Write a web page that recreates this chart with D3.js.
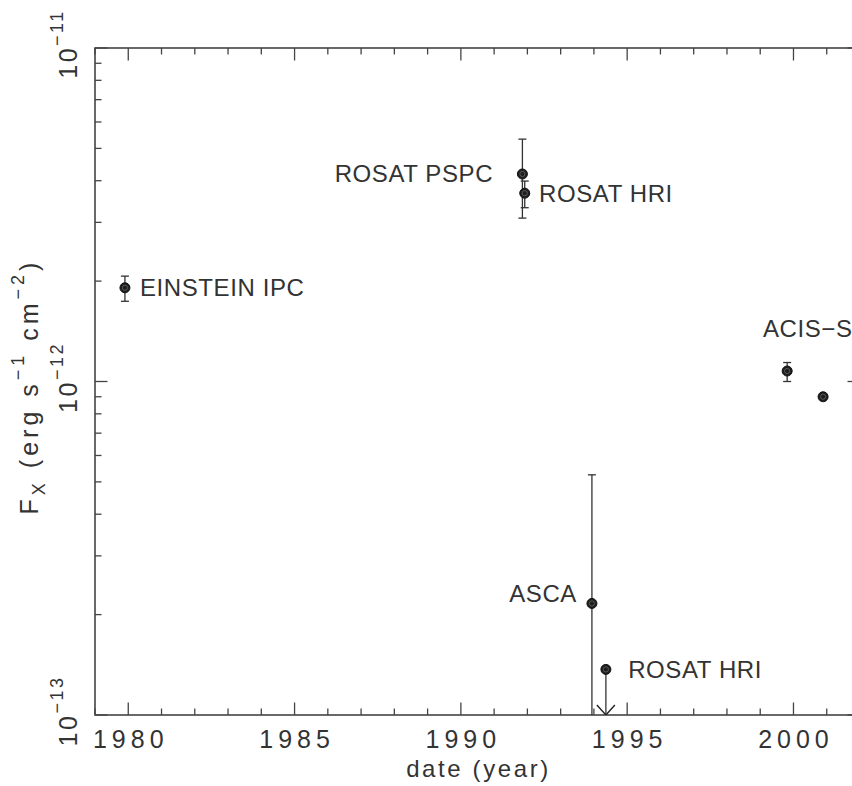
<!DOCTYPE html>
<html>
<head>
<meta charset="utf-8">
<script src="https://cdn.jsdelivr.net/npm/d3@7"></script>
<style>
  html, body { margin: 0; padding: 0; background: #fff; }
  svg { display: block; }
  text { font-family: "Liberation Sans", Arial, sans-serif; fill: #333; }
</style>
</head>
<body>
<div id="chart"></div>
<script>
// observations: date (year) and flux (erg s^-1 cm^-2)
const years    = [1979.9, 1991.85, 1991.92, 1993.94, 1994.36, 1999.81, 2000.89];
const flux     = [1.91e-12, 4.19e-12, 3.67e-12, 2.16e-13, 1.37e-13, 1.075e-12, 9.0e-13];
const fluxLo   = [1.74e-12, 3.09e-12, 3.32e-12, 5e-14, null, 1.0e-12, null];
const fluxHi   = [2.07e-12, 5.33e-12, 3.99e-12, 5.25e-13, null, 1.14e-12, null];
const upperLim = [false, false, false, false, true, false, false];

// instrument labels (anchor point in data units)
const labelText  = ["EINSTEIN IPC", "ROSAT PSPC", "ROSAT HRI", "ASCA", "ROSAT HRI", "ACIS\u2212S"];
const labelYear  = [1980.35, 1990.97, 1992.35, 1993.49, 1995.03, 1999.08];
const labelFlux  = [1.91e-12, 4.22e-12, 3.67e-12, 2.32e-13, 1.37e-13, 1.44e-12];
const labelSide  = ["start", "end", "start", "end", "start", "start"];

const xTicks = [1980, 1985, 1990, 1995, 2000];
const yTicks = [1e-13, 1e-12, 1e-11];
const yExp   = ["\u221213", "\u221212", "\u221211"];

const width = 852, height = 786;
const pL = 95, pR = 860, pT = 48, pB = 715;

const svg = d3.select("#chart").append("svg")
    .attr("width", width)
    .attr("height", height);

const x = d3.scaleLinear().domain([1979, 2002]).range([pL, pR]);
const y = d3.scaleLog().domain([1e-13, 1e-11]).range([pB, pT]);

const axisColor = "#444";

// frame
svg.append("rect")
    .attr("x", pL).attr("y", pT)
    .attr("width", pR - pL).attr("height", pB - pT)
    .attr("fill", "none")
    .attr("stroke", axisColor)
    .attr("stroke-width", 1.6);

// x ticks, bottom and top, pointing inward
const xMinor = d3.range(1979, 2003, 1);
const xt = svg.append("g").attr("stroke", axisColor).attr("stroke-width", 1.3);
xMinor.forEach(v => {
    const len = v % 5 === 0 ? 12.5 : 6.5;
    xt.append("line").attr("x1", x(v)).attr("x2", x(v)).attr("y1", pB).attr("y2", pB - len);
    xt.append("line").attr("x1", x(v)).attr("x2", x(v)).attr("y1", pT).attr("y2", pT + len);
});

// y ticks, left and right
const yAll = [];
[1e-13, 1e-12].forEach(d => { for (let m = 1; m <= 9; m++) yAll.push(m * d); });
yAll.push(1e-11);
const yt = svg.append("g").attr("stroke", axisColor).attr("stroke-width", 1.3);
yAll.forEach(v => {
    const major = yTicks.some(t => Math.abs(t - v) / t < 1e-6);
    const len = major ? 12.5 : 6.5;
    yt.append("line").attr("x1", pL).attr("x2", pL + len).attr("y1", y(v)).attr("y2", y(v));
    yt.append("line").attr("x1", pR).attr("x2", pR - len).attr("y1", y(v)).attr("y2", y(v));
});

// x tick labels
svg.append("g").selectAll("text")
    .data(xTicks)
    .join("text")
    .attr("x", d => x(d) + 2.5)
    .attr("y", 748)
    .attr("text-anchor", "middle")
    .attr("font-size", 25)
    .attr("letter-spacing", 5)
    .text(d => d);

// y tick labels (rotated, 10 with superscript)
yTicks.forEach((d, i) => {
    const t = svg.append("text")
        .attr("transform", `translate(77, ${y(d) - 4}) rotate(-90)`)
        .attr("text-anchor", "middle")
        .attr("font-size", 25)
        .attr("letter-spacing", 2.5);
    t.append("tspan").text("10");
    t.append("tspan").attr("dy", -14).attr("font-size", 18).text(yExp[i]);
});

// axis titles
svg.append("text")
    .attr("x", (pL + pR) / 2 + 1)
    .attr("y", 777)
    .attr("text-anchor", "middle")
    .attr("font-size", 24)
    .attr("letter-spacing", 2.6)
    .text("date (year)");

const yt2 = svg.append("text")
    .attr("transform", `translate(38, ${(pT + pB) / 2 + 5}) rotate(-90)`)
    .attr("text-anchor", "middle")
    .attr("font-size", 25)
    .attr("letter-spacing", 4);
yt2.append("tspan").text("F");
yt2.append("tspan").attr("dy", 7).attr("font-size", 18).text("X");
yt2.append("tspan").attr("dy", -7).text(" (erg s");
yt2.append("tspan").attr("dy", -14).attr("font-size", 18).text("\u22121");
yt2.append("tspan").attr("dy", 14).text(" cm");
yt2.append("tspan").attr("dy", -14).attr("font-size", 18).text("\u22122");
yt2.append("tspan").attr("dy", 14).text(")");

// data layer, clipped to plot area
svg.append("clipPath").attr("id", "plot")
    .append("rect")
    .attr("x", pL).attr("y", pT)
    .attr("width", pR - pL).attr("height", pB - pT);

const g = svg.append("g").attr("clip-path", "url(#plot)");
const idx = d3.range(years.length);

// error bars
const bars = idx.filter(i => fluxLo[i] !== null);
g.append("g").selectAll("line")
    .data(bars)
    .join("line")
    .attr("x1", i => x(years[i])).attr("x2", i => x(years[i]))
    .attr("y1", i => y(fluxLo[i])).attr("y2", i => y(fluxHi[i]))
    .attr("stroke", "#333").attr("stroke-width", 1.3);
["lo", "hi"].forEach(k => {
    g.append("g").selectAll("line")
        .data(bars)
        .join("line")
        .attr("x1", i => x(years[i]) - 4).attr("x2", i => x(years[i]) + 4)
        .attr("y1", i => y(k === "lo" ? fluxLo[i] : fluxHi[i]))
        .attr("y2", i => y(k === "lo" ? fluxLo[i] : fluxHi[i]))
        .attr("stroke", "#333").attr("stroke-width", 1.3);
});

// upper limit arrows
const lims = idx.filter(i => upperLim[i]);
lims.forEach(i => {
    const px = x(years[i]), py = y(flux[i]);
    g.append("line")
        .attr("x1", px).attr("x2", px).attr("y1", py).attr("y2", pB)
        .attr("stroke", "#333").attr("stroke-width", 1.3);
    g.append("path")
        .attr("d", `M${px - 9},${pB - 10} L${px},${pB} L${px + 9},${pB - 10}`)
        .attr("fill", "none").attr("stroke", "#222").attr("stroke-width", 1.4);
});

// markers
g.append("g").selectAll("circle")
    .data(idx)
    .join("circle")
    .attr("cx", i => x(years[i]))
    .attr("cy", i => y(flux[i]))
    .attr("r", 5)
    .attr("fill", "#1e1e1e")
    .attr("stroke", "#111")
    .attr("stroke-width", 1);
g.append("g").selectAll("circle")
    .data(idx)
    .join("circle")
    .attr("cx", i => x(years[i]))
    .attr("cy", i => y(flux[i]))
    .attr("r", 2.6)
    .attr("fill", "none")
    .attr("stroke", "#666")
    .attr("stroke-width", 0.8);

// instrument labels
svg.append("g").selectAll("text")
    .data(d3.range(labelText.length))
    .join("text")
    .attr("x", i => x(labelYear[i]))
    .attr("y", i => y(labelFlux[i]))
    .attr("dy", "0.36em")
    .attr("text-anchor", i => labelSide[i])
    .attr("font-size", 24)
    .attr("letter-spacing", 0.6)
    .text(i => labelText[i]);
</script>
</body>
</html>
